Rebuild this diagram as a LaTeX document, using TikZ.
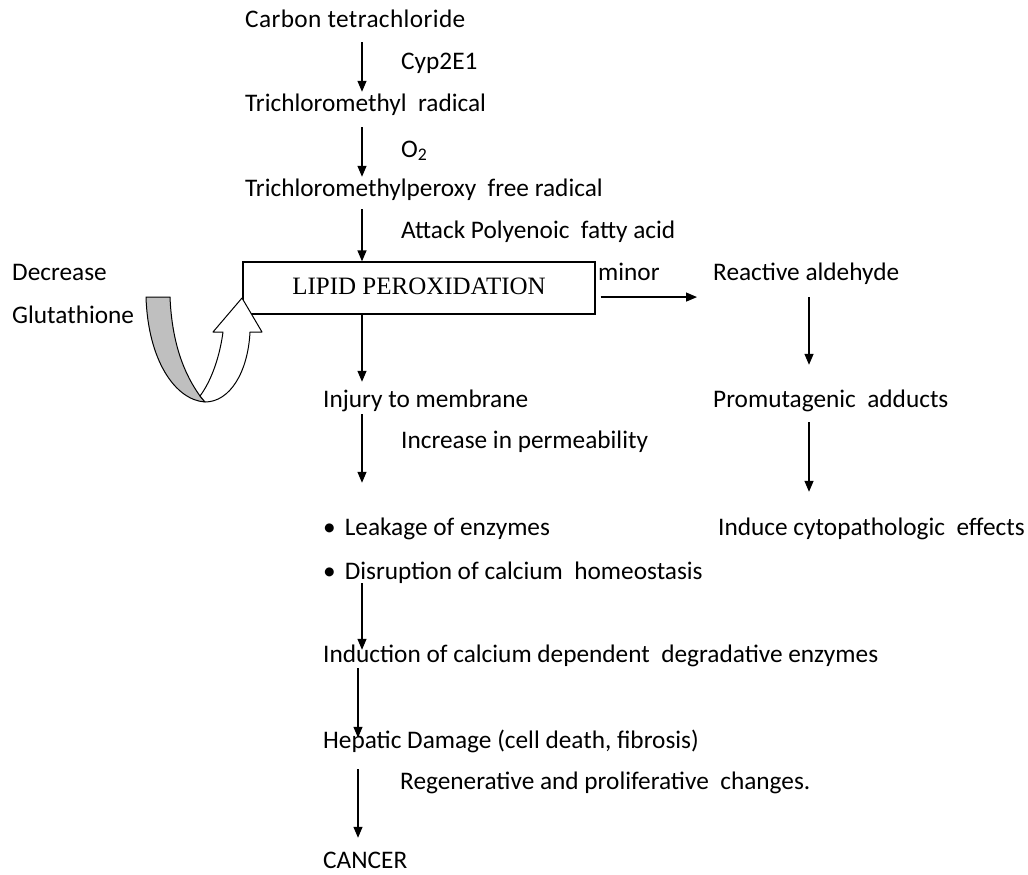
\documentclass[tikz,border=0pt]{standalone}
\usepackage{fontspec}
\setmainfont{Carlito}
\newfontfamily\serifont{Liberation Serif}
\newfontfamily\widefont[LetterSpace=1.5]{Carlito}
\usetikzlibrary{arrows.meta,calc}
\begin{document}
\begin{tikzpicture}[x=1pt,y=-1pt,
  lbl/.style={anchor=west,inner sep=0pt,text height=14pt,text depth=4pt,font=\fontsize{25.3}{28}\selectfont},
  arr/.style={-{Triangle[width=9pt,length=11pt]},line width=1.3pt},
  boxst/.style={draw,line width=1.3pt,minimum width=352pt,minimum height=52pt,inner sep=0pt,font=\serifont\fontsize{25}{28}\selectfont}]
\useasboundingbox (0,0) rectangle (1028,875);
% axis coordinates for arrows
\coordinate (ax) at (362,0);
\coordinate (bx) at (358,0);
\coordinate (rx) at (809,0);
% nodes
\node[lbl] (carbon) at (245,23) {\widefont Carbon tetrachloride};
\node[lbl] (cyp) at (401,65) {Cyp2E1};
\node[lbl] (tri) at (245,106) {Trichloromethyl\ \ radical};
\node[lbl] (o2) at (401,152) {O\textsubscript{2}};
\node[lbl] (triper) at (245,191) {Trichloromethylperoxy\ \ free radical};
\node[lbl] (attack) at (401,233) {Attack Polyenoic\ \ fatty acid};
\node[boxst] (lipid) at (419,288) {\raisebox{3pt}{LIPID PEROXIDATION}};
\node[lbl] (minor) at (598,275) {minor};
\node[lbl] (reactive) at (713,275) {Reactive aldehyde};
\node[lbl] (promut) at (713,402) {Promutagenic\ \ adducts};
\node[lbl] (induce) at (718,530) {Induce cytopathologic\ \ effects};
\node[lbl] (decrease) at (12,275) {Decrease};
\node[lbl] (gluta) at (12,318) {Glutathione};
\node[lbl] (injury) at (323,402) {Injury to membrane};
\node[lbl] (perm) at (401,443) {Increase in permeability};
\node[lbl] (leak) at (323,530) {\textbullet\hspace{9pt}Leakage of enzymes};
\node[lbl] (disr) at (323,574) {\textbullet\hspace{9pt}Disruption of calcium\ \ homeostasis};
\node[lbl] (induction) at (323,657) {Induction of calcium dependent\ \ degradative enzymes};
\node[lbl] (hepatic) at (323,743) {Hepatic Damage (cell death, fibrosis)};
\node[lbl] (regen) at (400,784) {Regenerative and proliferative\ \ changes.};
\node[lbl] (cancer) at (323,863) {CANCER};
% main chain arrows
\draw[arr,shorten <=10pt,shorten >=5pt] (carbon.south -| ax) -- (tri.north -| ax);
\draw[arr,shorten <=12pt,shorten >=5pt] (tri.south -| ax) -- (triper.north -| ax);
\draw[arr,shorten <=9pt] (triper.south -| ax) -- (lipid.north -| ax);
\draw[arr,shorten >=11pt] (lipid.south -| ax) -- (injury.north -| ax);
\draw[arr,shorten <=3pt,shorten >=38pt] (injury.south -| ax) -- (leak.north -| ax);
\draw[arr,shorten >=-2pt] (disr.south -| ax) -- (induction.north -| ax);
\draw[arr,shorten <=2pt,shorten >=-4pt] (induction.south -| bx) -- (hepatic.north -| bx);
\draw[arr,shorten <=17pt,shorten >=16pt] (hepatic.south -| bx) -- (cancer.north -| bx);
% right branch
\coordinate (mstart) at ($(lipid.south east)!0.33!(lipid.north east)$);
\draw[arr,shorten <=5pt,shorten >=16pt] (mstart) -- (reactive.west |- mstart);
\draw[arr,shorten <=13pt,shorten >=28pt] (reactive.south -| rx) -- (promut.north -| rx);
\draw[arr,shorten <=11pt,shorten >=29pt] (promut.south -| rx) -- (induce.north -| rx);
% curved U-turn arrow (glutathione)
\filldraw[fill=black!25,line width=1pt,line join=round]
  (146,297) .. controls (148,360) and (175,400) .. (205,402)
  -- (200,396) .. controls (185,375) and (172,345) .. (170,297) -- cycle;
\filldraw[fill=white,line width=1pt,line join=round]
  (200,396) .. controls (212,380) and (220,355) .. (223,332)
  -- (213,332) -- (242,298) -- (262,332) -- (250,332)
  .. controls (248,372) and (230,402) .. (205,402) -- cycle;
\end{tikzpicture}
\end{document}
